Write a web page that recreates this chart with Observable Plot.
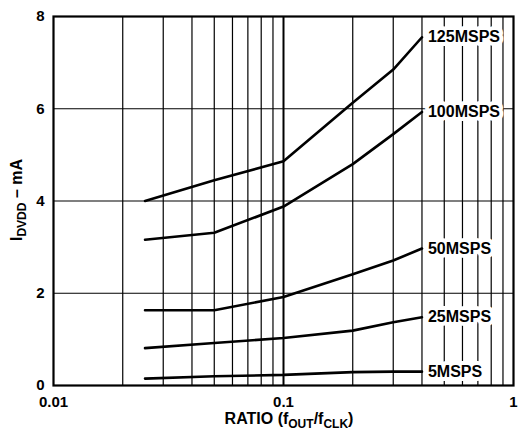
<!DOCTYPE html>
<html>
<head>
<meta charset="utf-8">
<script src="https://cdn.jsdelivr.net/npm/d3@7"></script>
<script src="https://cdn.jsdelivr.net/npm/@observablehq/plot@0.6"></script>
<style>
  html, body { margin: 0; padding: 0; background: #fff; }
  svg { display: block; }
</style>
</head>
<body>
<div id="chart"></div>
<script>
// Data
const ratio = [0.025, 0.05, 0.1, 0.2, 0.3, 0.4];
const seriesNames = ["125MSPS", "100MSPS", "50MSPS", "25MSPS", "5MSPS"];
const m125 = [4.00, 4.45, 4.86, 6.13, 6.85, 7.55];
const m100 = [3.16, 3.31, 3.88, 4.80, 5.45, 5.93];
const m50  = [1.63, 1.63, 1.92, 2.41, 2.71, 2.97];
const m25  = [0.81, 0.92, 1.03, 1.19, 1.37, 1.48];
const m5   = [0.15, 0.20, 0.23, 0.29, 0.30, 0.30];
const xTicks = [0.01, 0.1, 1];
const xTickLabels = ["0.01", "0.1", "1"];
const yTicks = [0, 2, 4, 6, 8];

const seriesValues = [m125, m100, m50, m25, m5];
const rows = [];
seriesNames.forEach((name, i) => {
  ratio.forEach((r, j) => rows.push({series: name, ratio: r, value: seriesValues[i][j]}));
});
const endRows = seriesNames.map((name, i) => ({series: name, ratio: ratio[ratio.length - 1], value: seriesValues[i][ratio.length - 1]}));

const xDomain = [0.01, 1];
const logGrid = d3.scaleLog().domain(xDomain).ticks();
const minorGrid = logGrid.filter(v => !xTicks.some(t => Math.abs(t - v) < 1e-9));

const font = '"Liberation Sans", Arial, Helvetica, sans-serif';

const plot = Plot.plot({
  width: 519,
  height: 430,
  marginLeft: 53,
  marginRight: 6,
  marginTop: 16,
  marginBottom: 45,
  style: {fontFamily: font, fontSize: "15px", fontWeight: "bold", background: "#fff", color: "#000"},
  x: {type: "log", domain: xDomain},
  y: {domain: [0, 8]},
  marks: [
    Plot.ruleX(minorGrid, {stroke: "#000", strokeWidth: 1.2}),
    Plot.ruleX([0.1], {stroke: "#000", strokeWidth: 2}),
    Plot.ruleY(yTicks, {stroke: "#000", strokeWidth: 1.2}),
    Plot.line(rows, {x: "ratio", y: "value", z: "series", stroke: "#000", strokeWidth: 2.6, strokeLinejoin: "miter"}),
    Plot.text(endRows, {x: "ratio", y: "value", text: "series", textAnchor: "start", dx: 6, dy: 0,
      fill: "#000", stroke: "#fff", strokeWidth: 8, paintOrder: "stroke", fontSize: 16, fontWeight: "bold"}),
    Plot.frame({stroke: "#000", strokeWidth: 2.2}),
    Plot.axisX({ticks: xTicks, tickFormat: (d, i) => xTickLabels[xTicks.indexOf(d)], tickSize: 0, tickPadding: 11, label: null, fontSize: 15, fontWeight: "bold"}),
    Plot.axisY({ticks: yTicks, tickFormat: d => String(d), tickSize: 0, tickPadding: 9, label: null, fontSize: 15, fontWeight: "bold"})
  ]
});

document.getElementById("chart").appendChild(plot);

const svg = d3.select(plot);
// X axis title with subscripts
const xt = svg.append("text")
  .attr("x", 289).attr("y", 424)
  .attr("text-anchor", "middle")
  .style("font-family", font).style("font-size", "16px").style("font-weight", "bold").attr("fill", "#000");
xt.append("tspan").text("RATIO (f");
xt.append("tspan").attr("dy", 4).style("font-size", "12px").text("OUT");
xt.append("tspan").attr("dy", -4).text("/f");
xt.append("tspan").attr("dy", 4).style("font-size", "12px").text("CLK");
xt.append("tspan").attr("dy", -4).text(")");

// Y axis title with subscript
const yt = svg.append("text")
  .attr("transform", "translate(22,200) rotate(-90)")
  .attr("text-anchor", "middle")
  .style("font-family", font).style("font-size", "16px").style("font-weight", "bold").attr("fill", "#000");
yt.append("tspan").text("I");
yt.append("tspan").attr("dy", 4).style("font-size", "12px").text("DVDD");
yt.append("tspan").attr("dy", -4).text(" \u2013 mA");
</script>
</body>
</html>
